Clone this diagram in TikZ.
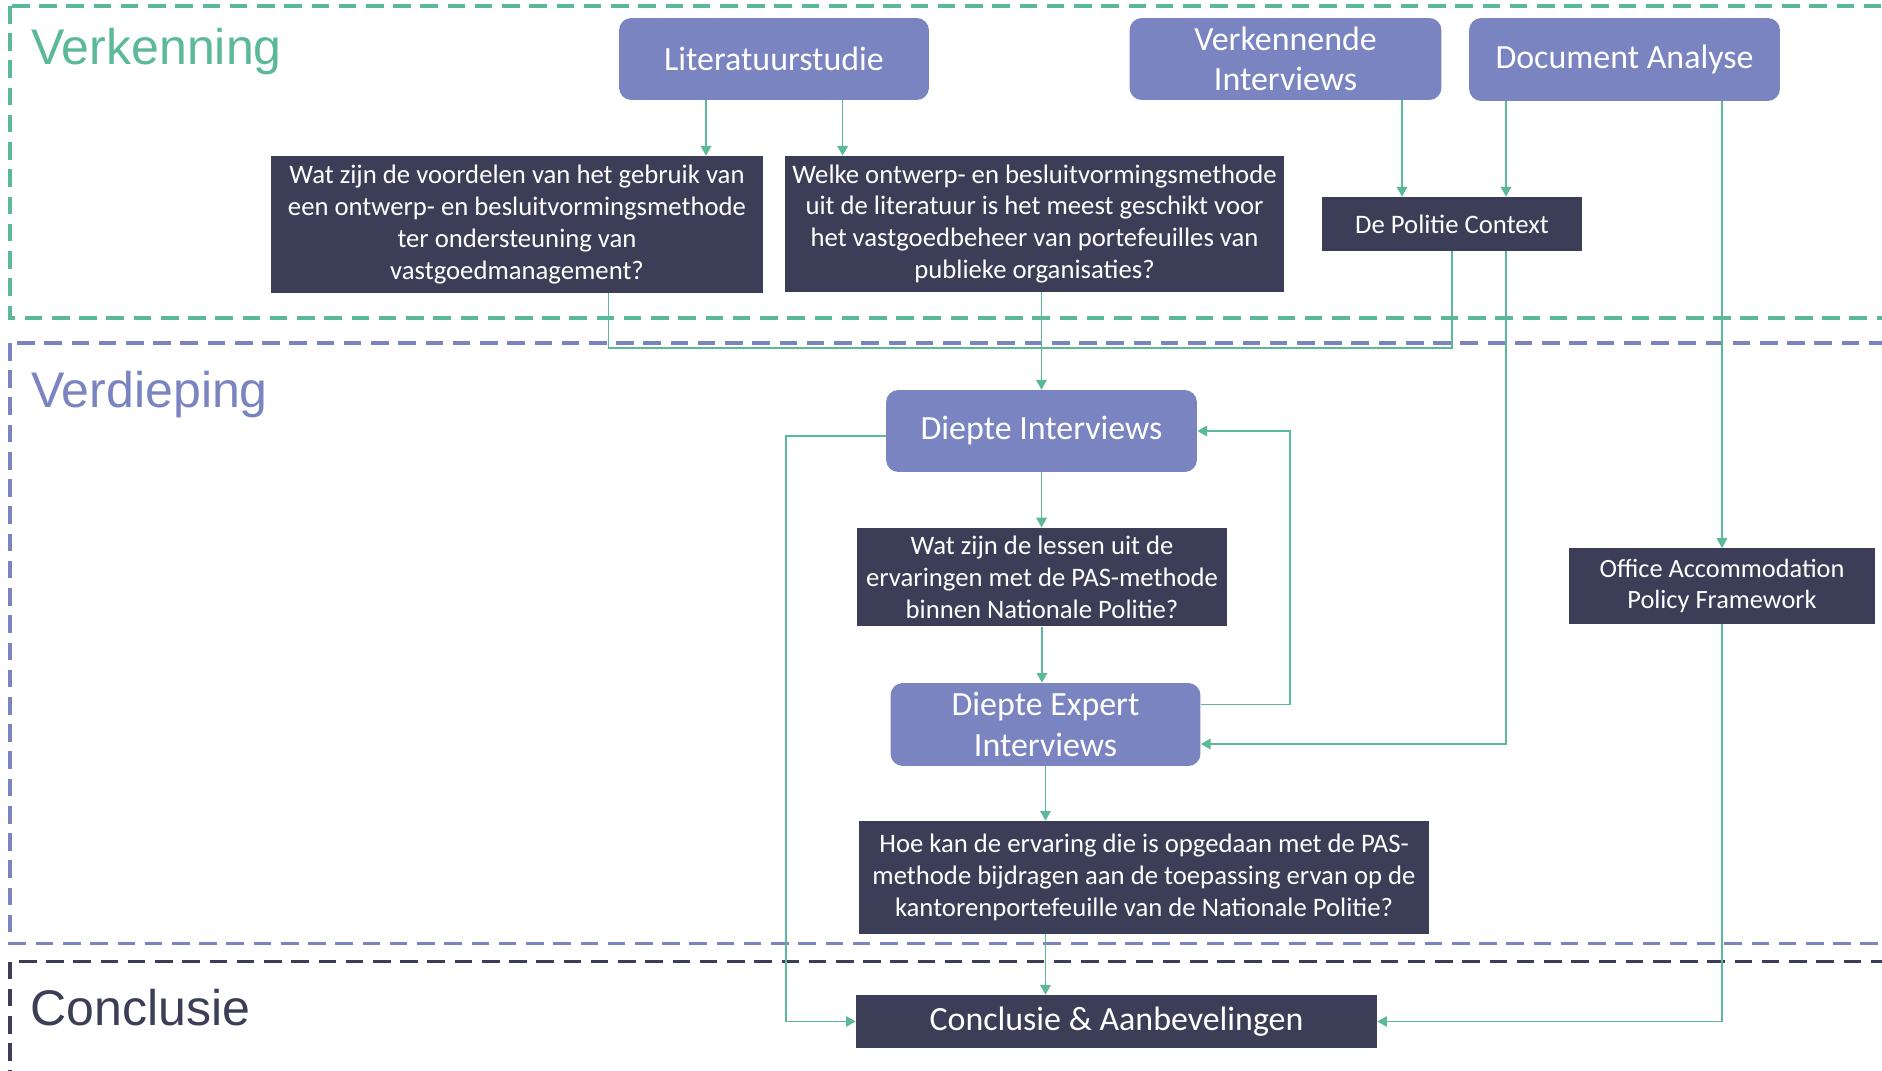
\documentclass[tikz,border=0pt]{standalone}
\usepackage{fontspec}
\setmainfont{Carlito}
\newfontfamily\fasefont{Liberation Sans}
\usetikzlibrary{arrows.meta}
\definecolor{groen}{HTML}{5CB998}
\definecolor{paars}{HTML}{7A84C1}
\definecolor{donker}{HTML}{3C3E58}

\begin{document}
\begin{tikzpicture}[x=0.02cm,y=-0.02cm,
  fase/.style={line width=2pt,dash pattern=on 10pt off 5.5pt},
  titel/.style={anchor=base west,font=\fasefont\fontsize{28.5}{34}\selectfont},
  methode/.style={fill=paars,text=white,rounded corners=7pt,align=center,inner sep=0pt,
    font=\fontsize{19.3}{23}\selectfont},
  vraag/.style={fill=donker,text=white,align=center,inner sep=0pt,
    font=\fontsize{15.2}{18.2}\selectfont},
  pijl/.style={groen,line width=0.8pt,-{Triangle[length=5.5pt,width=6pt]}},
  lijn/.style={groen,line width=0.8pt}]
\useasboundingbox (0,0) rectangle (1882,1071);
\clip (0,0) rectangle (1882,1071);

\coordinate (L) at (774,59);
\coordinate (V) at (1285.5,59);
\coordinate (D) at (1624.5,59.5);
\coordinate (Q1) at (517,224.5);
\coordinate (Q2) at (1034.5,224);
\coordinate (P) at (1452,224);
\coordinate (I) at (1041.5,431);
\coordinate (Q3) at (1042,577);
\coordinate (E) at (1045.5,724.5);
\coordinate (O) at (1722,586);
\coordinate (Q4) at (1144,877.5);
\coordinate (C) at (1116.5,1021.5);

\draw [fase,groen] (10,6) rectangle (1900,318);
\draw [fase,paars] (10,343) rectangle (1900,943.5);
\draw [fase,donker] (10,961.5) rectangle (1900,1100);

\node [titel,text=groen] (verkenning) at (25,65) {Verkenning};
\node [titel,text=paars] (verdieping) at (25,407) {Verdieping};
\node [titel,text=donker] (conclusie) at (24,1025) {Conclusie};

\node [methode,minimum width=6.2cm,minimum height=1.64cm] (lit) at (L) {Literatuurstudie};
\node [methode,minimum width=6.24cm,minimum height=1.64cm] (verk) at (V) {Verkennende\\Interviews};
\node [methode,minimum width=6.22cm,minimum height=1.66cm] (doc) at (D) {Document Analyse};
\node [vraag,minimum width=9.84cm,minimum height=2.74cm] (q1) at (Q1) {Wat zijn de voordelen van het gebruik van\\een ontwerp- en besluitvormingsmethode\\ter ondersteuning van\\vastgoedmanagement?};
\node [vraag,minimum width=9.98cm,minimum height=2.72cm] (q2) at (Q2) {Welke ontwerp- en besluitvormingsmethode\\uit de literatuur is het meest geschikt voor\\het vastgoedbeheer van portefeuilles van\\publieke organisaties?};
\node [vraag,minimum width=5.2cm,minimum height=1.08cm] (pol) at (P) {De Politie Context};
\node [methode,minimum width=6.22cm,minimum height=1.64cm] (diep) at (I) {Diepte Interviews};
\node [vraag,minimum width=7.4cm,minimum height=1.97cm] (q3) at (Q3) {Wat zijn de lessen uit de\\ervaringen met de PAS-methode\\binnen Nationale Politie?};
\node [methode,minimum width=6.2cm,minimum height=1.66cm] (exp) at (E) {Diepte Expert\\Interviews};
\node [vraag,minimum width=6.12cm,minimum height=1.51cm,font=\fontsize{15}{17.9}\selectfont] (oapf) at (O) {Office Accommodation\\Policy Framework};
\node [vraag,minimum width=11.41cm,minimum height=2.26cm] (q4) at (Q4) {Hoe kan de ervaring die is opgedaan met de PAS-\\methode bijdragen aan de toepassing ervan op de\\kantorenportefeuille van de Nationale Politie?};
\node [vraag,minimum width=10.42cm,minimum height=1.06cm,font=\fontsize{19.3}{23}\selectfont] (concl) at (C) {Conclusie \& Aanbevelingen};

\coordinate (xa) at (706,0);
\coordinate (xb) at (842.6,0);
\coordinate (xc) at (1402,0);
\coordinate (xd) at (1506,0);
\coordinate (xf) at (608.5,0);
\coordinate (xh) at (1290,0);
\coordinate (xi) at (786,0);
\coordinate (ym) at (0,348);

\draw [pijl] (xa |- lit.south) -- (xa |- q1.north);
\draw [pijl] (xb |- lit.south) -- (xb |- q2.north);
\draw [pijl] (xc |- verk.south) -- (xc |- pol.north);
\draw [pijl] (xd |- doc.south) -- (xd |- pol.north);
\draw [pijl] (oapf.north |- doc.south) -- (oapf.north);
\draw [lijn] (xf |- q1.south) -- (xf |- ym) -- (pol.south |- ym) -- (pol.south);
\draw [pijl] (diep.north |- q2.south) -- (diep.north);
\draw [pijl] (xd |- pol.south) |- ([yshift=-0.39cm]exp.east);
\draw [pijl] (diep.south) -- (diep.south |- q3.north);
\draw [pijl] (q3.south) -- (q3.south |- exp.north);
\draw [pijl] ([yshift=0.4cm]exp.east) -| (xh |- diep.east) -- (diep.east);
\draw [pijl] ([yshift=-0.1cm]diep.west) -| (xi |- concl.west) -- (concl.west);
\draw [pijl] (exp.south) -- (exp.south |- q4.north);
\draw [pijl] (exp.south |- q4.south) -- (exp.south |- concl.north);
\draw [pijl] (oapf.south) |- (concl.east);
\end{tikzpicture}
\end{document}
